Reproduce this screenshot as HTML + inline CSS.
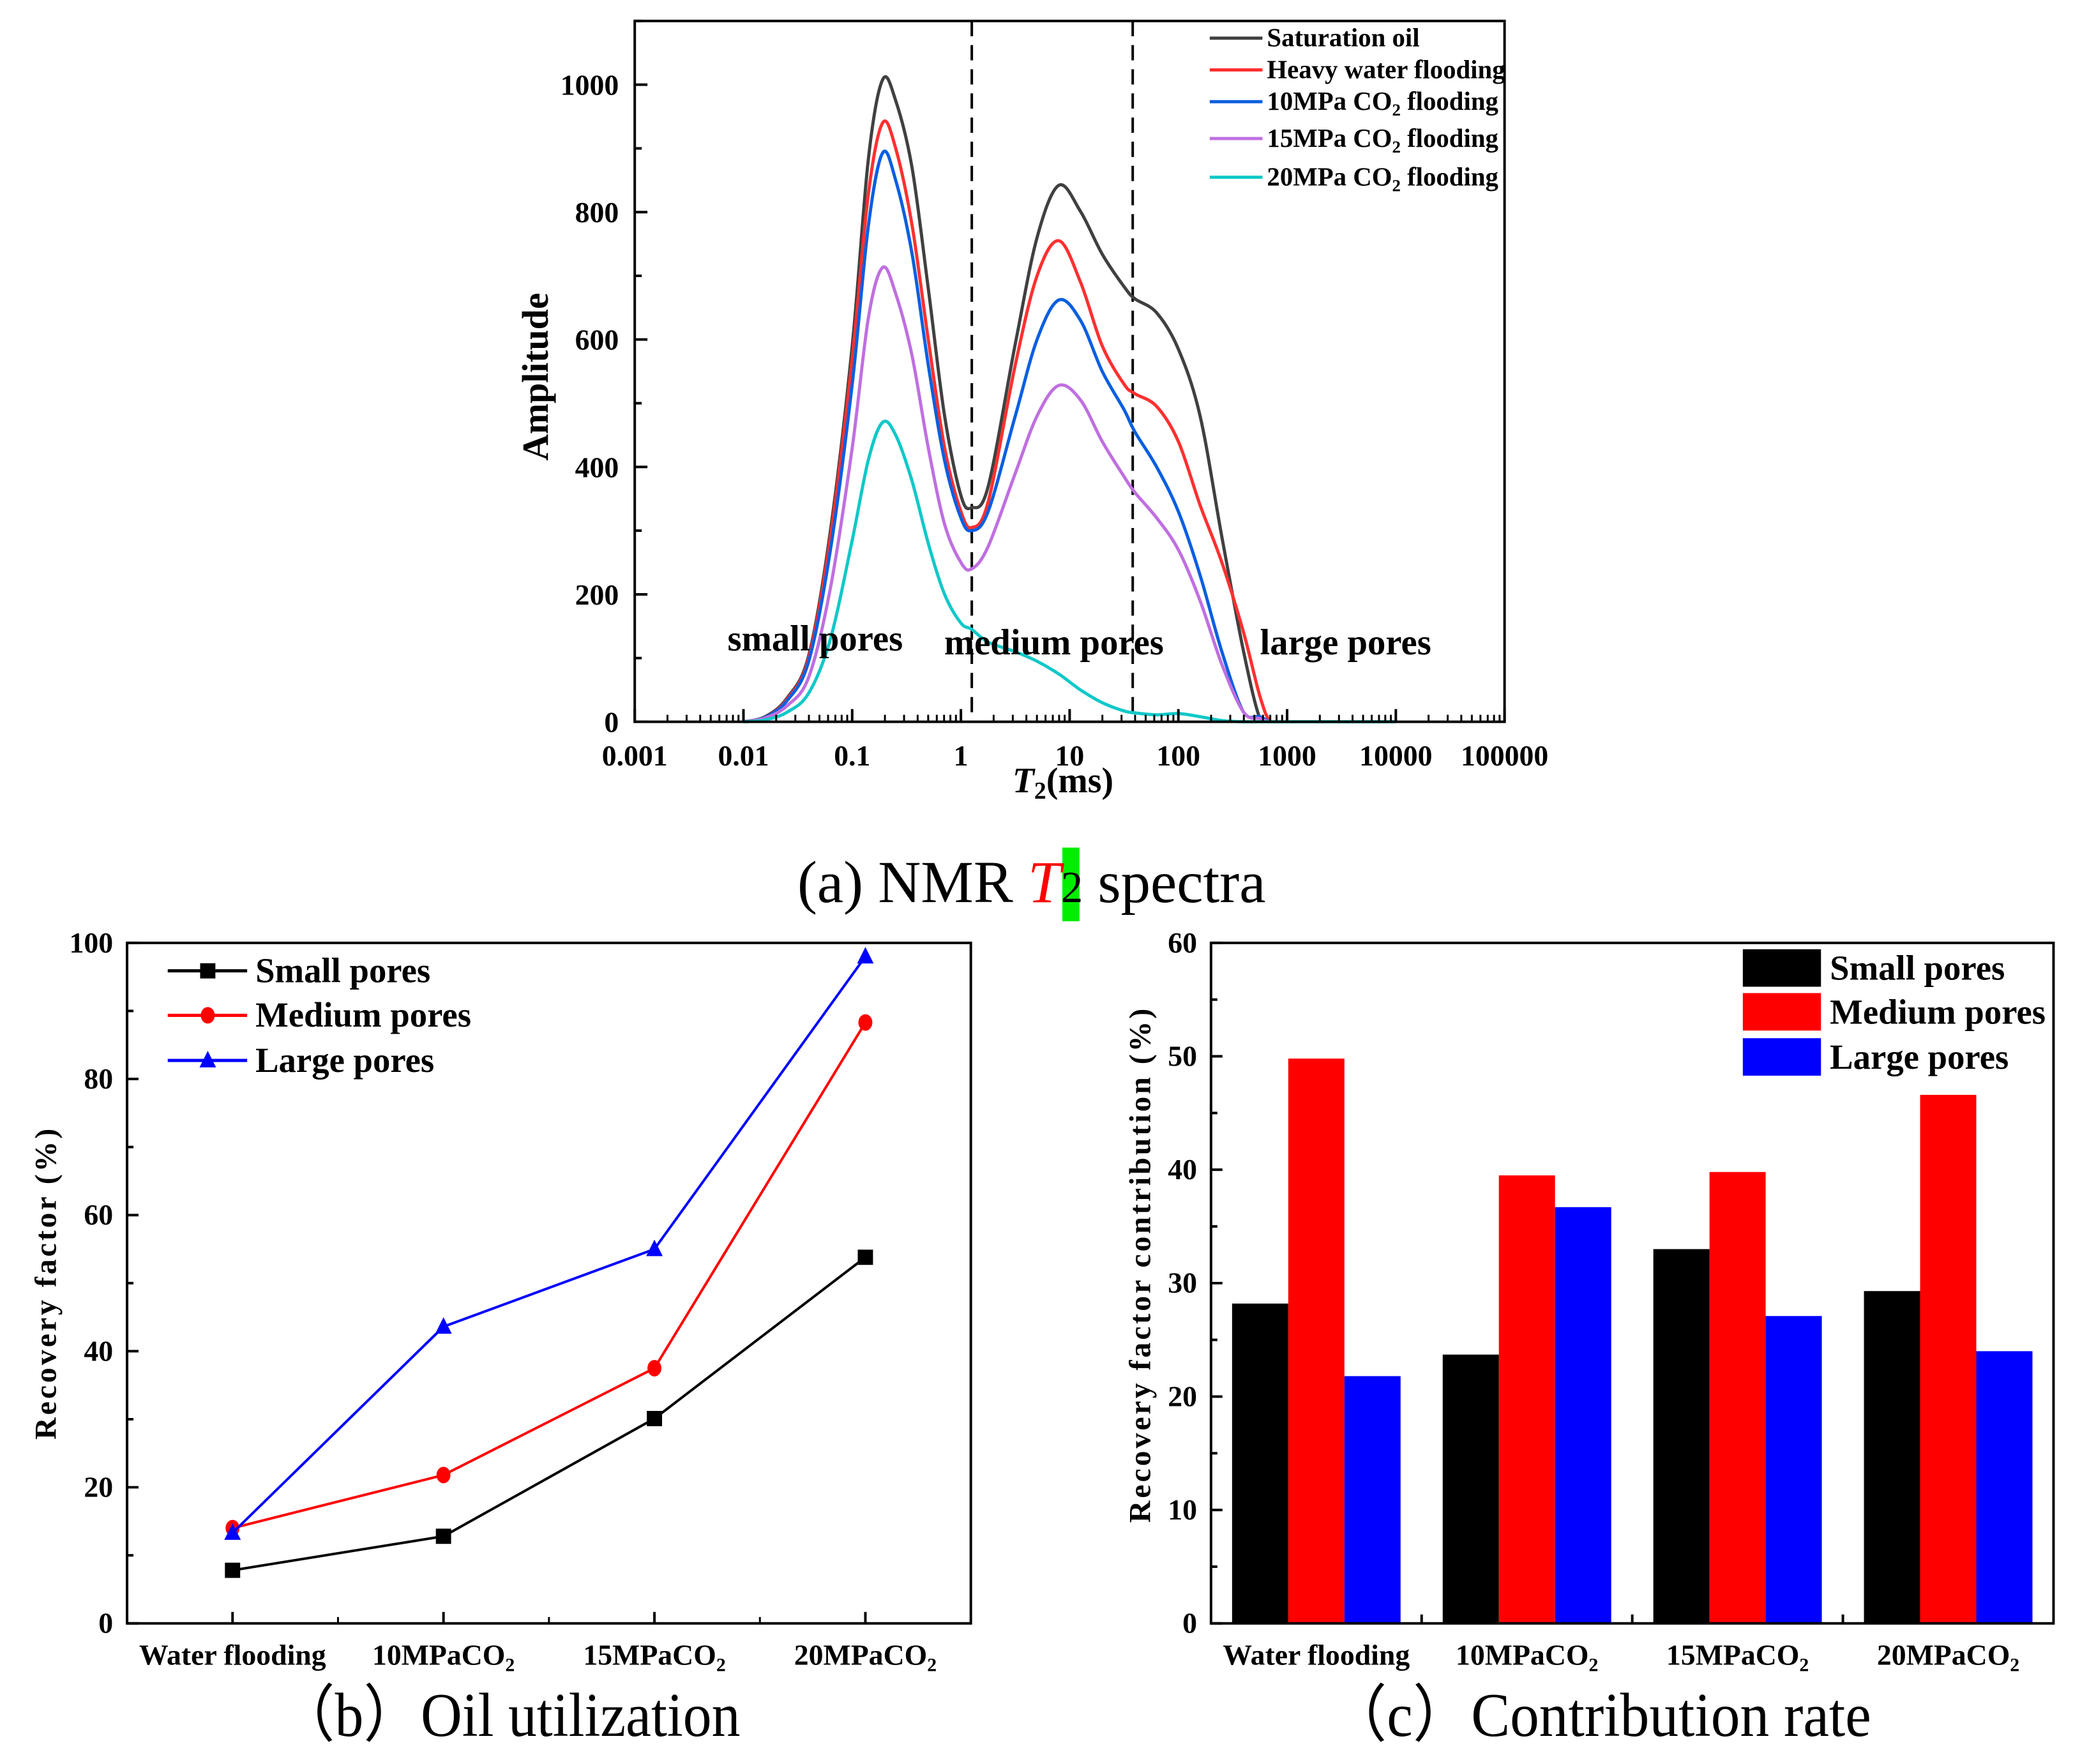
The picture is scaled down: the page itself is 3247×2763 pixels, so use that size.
<!DOCTYPE html>
<html><head><meta charset="utf-8"><style>
html,body{margin:0;padding:0;background:#fff;}
svg{display:block;font-family:"Liberation Serif","DejaVu Serif",serif;}
.b{font-weight:bold;}
</style></head><body>
<svg id="fig" xmlns="http://www.w3.org/2000/svg" width="3247" height="2763" viewBox="0 0 3247 2763">
<rect width="3247" height="2763" fill="#fff"/>
<g transform="scale(0.9952)">
<g id="ga"></g>
<g id="gb"></g>
<g id="gc"></g>
<g>
<rect x="1672" y="1334" width="27" height="116" fill="#00ee00"/>
<text x="1255" y="1420" font-size="94" textLength="737" lengthAdjust="spacingAndGlyphs">(a) NMR <tspan fill="#ff0000" font-style="italic">T</tspan><tspan font-size="70">2</tspan> spectra</text>
<text x="437" y="2732" font-size="98" textLength="728" lengthAdjust="spacingAndGlyphs">（b）Oil utilization</text>
<text x="2091" y="2732" font-size="98" textLength="854" lengthAdjust="spacingAndGlyphs">（c）Contribution rate</text>
</g>
</g>
</svg>
<script>
// ---------- Chart A data ----------
const t2Log = [-2,-1.8,-1.6,-1.4,-1.2,-1.0,-0.85,-0.72,-0.6,-0.45,-0.3,-0.15,0,0.1,0.25,0.5,0.7,0.9,1.1,1.3,1.5,1.6,1.8,2.0,2.2,2.4,2.6,2.75,2.85,3,3.5,4];
const satOil = [0,8,37,104,300,590,885,1008,975,870,680,480,355,336,369,593,760,842,801,734,683,664,642,585,480,290,110,5,0,0,0,0];
const heavyWater = [0,7,35,100,290,570,830,940,900,780,600,430,330,305,345,560,700,755,690,590,530,515,495,440,340,250,140,40,0,0,0,0];
const co2_10 = [0,7,33,95,270,530,780,893,850,735,560,410,320,300,330,480,600,662,630,550,490,455,400,330,230,110,15,8,0,0,0,0];
const co2_15 = [0,6,25,70,210,430,635,713,672,575,430,310,250,240,275,390,480,528,505,440,385,360,320,270,190,90,15,5,0,0,0,0];
const co2_20 = [0,3,15,45,130,285,412,470,450,378,280,200,155,145,125,110,95,75,50,30,17,14,11,13,8,2,0,0,0,0,0,0];
const seriesA = [["Saturation oil","#404040",satOil],["Heavy water flooding","#ff3030",heavyWater],["10MPa CO2 flooding","#0a5fe0",co2_10],["15MPa CO2 flooding","#bf6fe0",co2_15],["20MPa CO2 flooding","#10c8c8",co2_20]];
const aXTicks = [-3,-2,-1,0,1,2,3,4,5];
const aXLabels = ["0.001","0.01","0.1","1","10","100","1000","10000","100000"];
const aYTicks = [0,200,400,600,800,1000];
const dividers = [0.1,1.58];

// ---------- Chart B data ----------
const cats = ["Water flooding","10MPaCO","15MPaCO","20MPaCO"];
const catSub = ["","2","2","2"];
const recSmall = [7.8,12.8,30.1,53.8];
const recMedium = [14.0,21.8,37.5,88.3];
const recLarge = [13.3,43.6,55.0,98.0];
const bYTicks = [0,20,40,60,80,100];

// ---------- Chart C data ----------
const conSmall = [28.2,23.7,33.0,29.3];
const conMedium = [49.8,39.5,39.8,46.6];
const conLarge = [21.8,36.7,27.1,24.0];
const cYTicks = [0,10,20,30,40,50,60];

const NS="http://www.w3.org/2000/svg";
function mk(parent,tag,attrs,txt){const e=document.createElementNS(NS,tag);for(const k in attrs)e.setAttribute(k,attrs[k]);if(txt!==undefined)e.textContent=txt;parent.appendChild(e);return e;}
function smooth(pts){let d="M"+pts[0][0]+","+pts[0][1];for(let i=0;i<pts.length-1;i++){const p0=pts[i-1]||pts[i],p1=pts[i],p2=pts[i+1],p3=pts[i+2]||p2;
const c1=[p1[0]+(p2[0]-p0[0])/6,p1[1]+(p2[1]-p0[1])/6],c2=[p2[0]-(p3[0]-p1[0])/6,p2[1]-(p3[1]-p1[1])/6];
d+=" C"+c1[0].toFixed(1)+","+Math.min(c1[1],1136).toFixed(1)+" "+c2[0].toFixed(1)+","+Math.min(c2[1],1136).toFixed(1)+" "+p2[0].toFixed(1)+","+p2[1].toFixed(1);}return d;}

// ===== Chart A =====
(function(){
const g=document.getElementById('ga');
const L=999,R=2368,T=33,B=1136;
const xs=v=>L+(v+3)*(R-L)/8, ys=v=>B-v*(B-T)/1100;
dividers.forEach(v=>{const l=mk(g,'line',{x1:xs(v),x2:xs(v),y1:T,y2:B,stroke:'#000','stroke-width':4,'stroke-dasharray':'24,14'});
});
seriesA.forEach(s=>{const p=mk(g,'path',{d:smooth(t2Log.map((x,i)=>[xs(x),ys(s[2][i])])),fill:'none',stroke:s[1],'stroke-width':5});
});
const box=mk(g,'rect',{x:L,y:T,width:R-L,height:B-T,fill:'none',stroke:'#000','stroke-width':4});

aXTicks.forEach((v,i)=>{mk(g,'line',{x1:xs(v),x2:xs(v),y1:B,y2:B-20,stroke:'#000','stroke-width':4});
if(i<aXTicks.length-1)for(let m=2;m<10;m++){const xv=v+Math.log10(m);mk(g,'line',{x1:xs(xv),x2:xs(xv),y1:B,y2:B-11,stroke:'#000','stroke-width':3});}
const t=mk(g,'text',{x:xs(v),y:1205,'font-size':46,'text-anchor':'middle',class:'b'},aXLabels[i]);
});
for(let v=0;v<=1100;v+=100){mk(g,'line',{x1:L,x2:L+(v%200?11:20),y1:ys(v),y2:ys(v),stroke:'#000','stroke-width':4});}
aYTicks.forEach(v=>{const t=mk(g,'text',{x:974,y:ys(v)+16,'font-size':46,'text-anchor':'end',class:'b'},v);
});
const yl=mk(g,'text',{x:0,y:0,'font-size':58,'text-anchor':'middle',class:'b',transform:'translate(862,593) rotate(-90)'},'Amplitude');

const xl=mk(g,'text',{x:1673,y:1247,'font-size':56,'text-anchor':'middle',class:'b'});

mk(xl,'tspan',{'font-style':'italic'},'T');mk(xl,'tspan',{'font-size':38,dy:10},'2');mk(xl,'tspan',{dy:-10},'(ms)');
[["small pores",1145,1024],["medium pores",1486,1030],["large pores",1983,1030]].forEach(p=>{const t=mk(g,'text',{x:p[1],y:p[2],'font-size':57,class:'b'},p[0]);
});
const ly=[60,110,160,218,279];
seriesA.forEach((s,i)=>{const lg=mk(g,'g',{});
mk(lg,'line',{x1:1904,x2:1987,y1:ly[i],y2:ly[i],stroke:s[1],'stroke-width':5});
const t=mk(lg,'text',{x:1994,y:ly[i]+13,'font-size':41,class:'b'});
if(s[0].indexOf('CO2')>=0){const parts=s[0].split('CO2');mk(t,'tspan',{},parts[0]+'CO');mk(t,'tspan',{'font-size':27,dy:9},'2');mk(t,'tspan',{dy:-9},parts[1]);}else t.textContent=s[0];});
})();

function catLabels(g,xc){cats.forEach((c,i)=>{const t=mk(g,'text',{x:xc(i),y:2620,'font-size':46,'text-anchor':'middle',class:'b'});

mk(t,'tspan',{},c);if(catSub[i]){mk(t,'tspan',{'font-size':30,dy:10},catSub[i]);}});}

// ===== Chart B =====
(function(){
const g=document.getElementById('gb');
const L=200,R=1528,T=1484,B=2555;
const xc=i=>L+(i+0.5)*(R-L)/4, ys=v=>B-v*(B-T)/100;
const box=mk(g,'rect',{x:L,y:T,width:R-L,height:B-T,fill:'none',stroke:'#000','stroke-width':4});

for(let v=0;v<=100;v+=10)mk(g,'line',{x1:L,x2:L+(v%20?10:18),y1:ys(v),y2:ys(v),stroke:'#000','stroke-width':4});
bYTicks.forEach(v=>{const t=mk(g,'text',{x:178,y:ys(v)+15,'font-size':46,'text-anchor':'end',class:'b'},v);
});
for(let i=0;i<4;i++){mk(g,'line',{x1:xc(i),x2:xc(i),y1:B,y2:B-18,stroke:'#000','stroke-width':4});mk(g,'line',{x1:xc(i)+(R-L)/8,x2:xc(i)+(R-L)/8,y1:B,y2:B-10,stroke:'#000','stroke-width':3});}
catLabels(g,xc);
const yl=mk(g,'text',{x:0,y:0,'font-size':48,'text-anchor':'middle',class:'b','letter-spacing':4,transform:'translate(88,2019) rotate(-90)'},'Recovery factor (%)');

const ser=[["small-pores","#000",recSmall,"sq"],["medium-pores","#ff0000",recMedium,"ci"],["large-pores","#0000ff",recLarge,"tr"]];
function marker(p,x,y,t,c){if(t=='sq')return mk(p,'rect',{x:x-12,y:y-12,width:24,height:24,fill:c});if(t=='ci')return mk(p,'ellipse',{cx:x,cy:y,rx:11,ry:13,fill:c});return mk(p,'polygon',{points:(x)+','+(y-15)+' '+(x-13)+','+(y+11)+' '+(x+13)+','+(y+11),fill:c});}
ser.forEach(s=>{const sg=mk(g,'g',{});
mk(sg,'polyline',{points:s[2].map((v,i)=>xc(i)+','+ys(v)).join(' '),fill:'none',stroke:s[1],'stroke-width':4});
s[2].forEach((v,i)=>{const m=marker(sg,xc(i),ys(v),s[3],s[1]);});});
const ly=[1528,1598,1669],names=["Small pores","Medium pores","Large pores"];
ser.forEach((s,i)=>{const lg=mk(g,'g',{});
mk(lg,'line',{x1:264,x2:389,y1:ly[i],y2:ly[i],stroke:s[1],'stroke-width':5});marker(lg,327,ly[i],s[3],s[1]);
mk(lg,'text',{x:402,y:ly[i]+18,'font-size':55,class:'b'},names[i]);});
})();

// ===== Chart C =====
(function(){
const g=document.getElementById('gc');
const L=1906,R=3232,T=1484,B=2555;
const gw=(R-L)/4,bw=gw*0.8/3;
const xc=i=>L+(i+0.5)*gw, ys=v=>B-v*(B-T)/60;
const ser=[["small-pores","#000",conSmall],["medium-pores","#ff0000",conMedium],["large-pores","#0000ff",conLarge]];
ser.forEach((s,k)=>{s[2].forEach((v,i)=>{const r=mk(g,'rect',{x:xc(i)-1.5*bw+k*bw,y:ys(v),width:bw,height:B-ys(v),fill:s[1]});
});});
const box=mk(g,'rect',{x:L,y:T,width:R-L,height:B-T,fill:'none',stroke:'#000','stroke-width':4});

for(let v=0;v<=60;v+=5)mk(g,'line',{x1:L,x2:L+(v%10?10:18),y1:ys(v),y2:ys(v),stroke:'#000','stroke-width':4});
cYTicks.forEach(v=>{const t=mk(g,'text',{x:1884,y:ys(v)+15,'font-size':46,'text-anchor':'end',class:'b'},v);
});
for(let i=1;i<4;i++)mk(g,'line',{x1:L+i*gw,x2:L+i*gw,y1:B,y2:B-14,stroke:'#000','stroke-width':4});
catLabels(g,xc);
const yl=mk(g,'text',{x:0,y:0,'font-size':48,'text-anchor':'middle',class:'b','letter-spacing':4,transform:'translate(1810,1990) rotate(-90)'},'Recovery factor contribution (%)');

const ly=[1494,1563,1634],names=["Small pores","Medium pores","Large pores"];
ser.forEach((s,i)=>{const lg=mk(g,'g',{});
mk(lg,'rect',{x:2743,y:ly[i],width:123,height:59,fill:s[1]});
mk(lg,'text',{x:2880,y:ly[i]+48,'font-size':55,class:'b'},names[i]);});
})();
</script>
</body></html>
